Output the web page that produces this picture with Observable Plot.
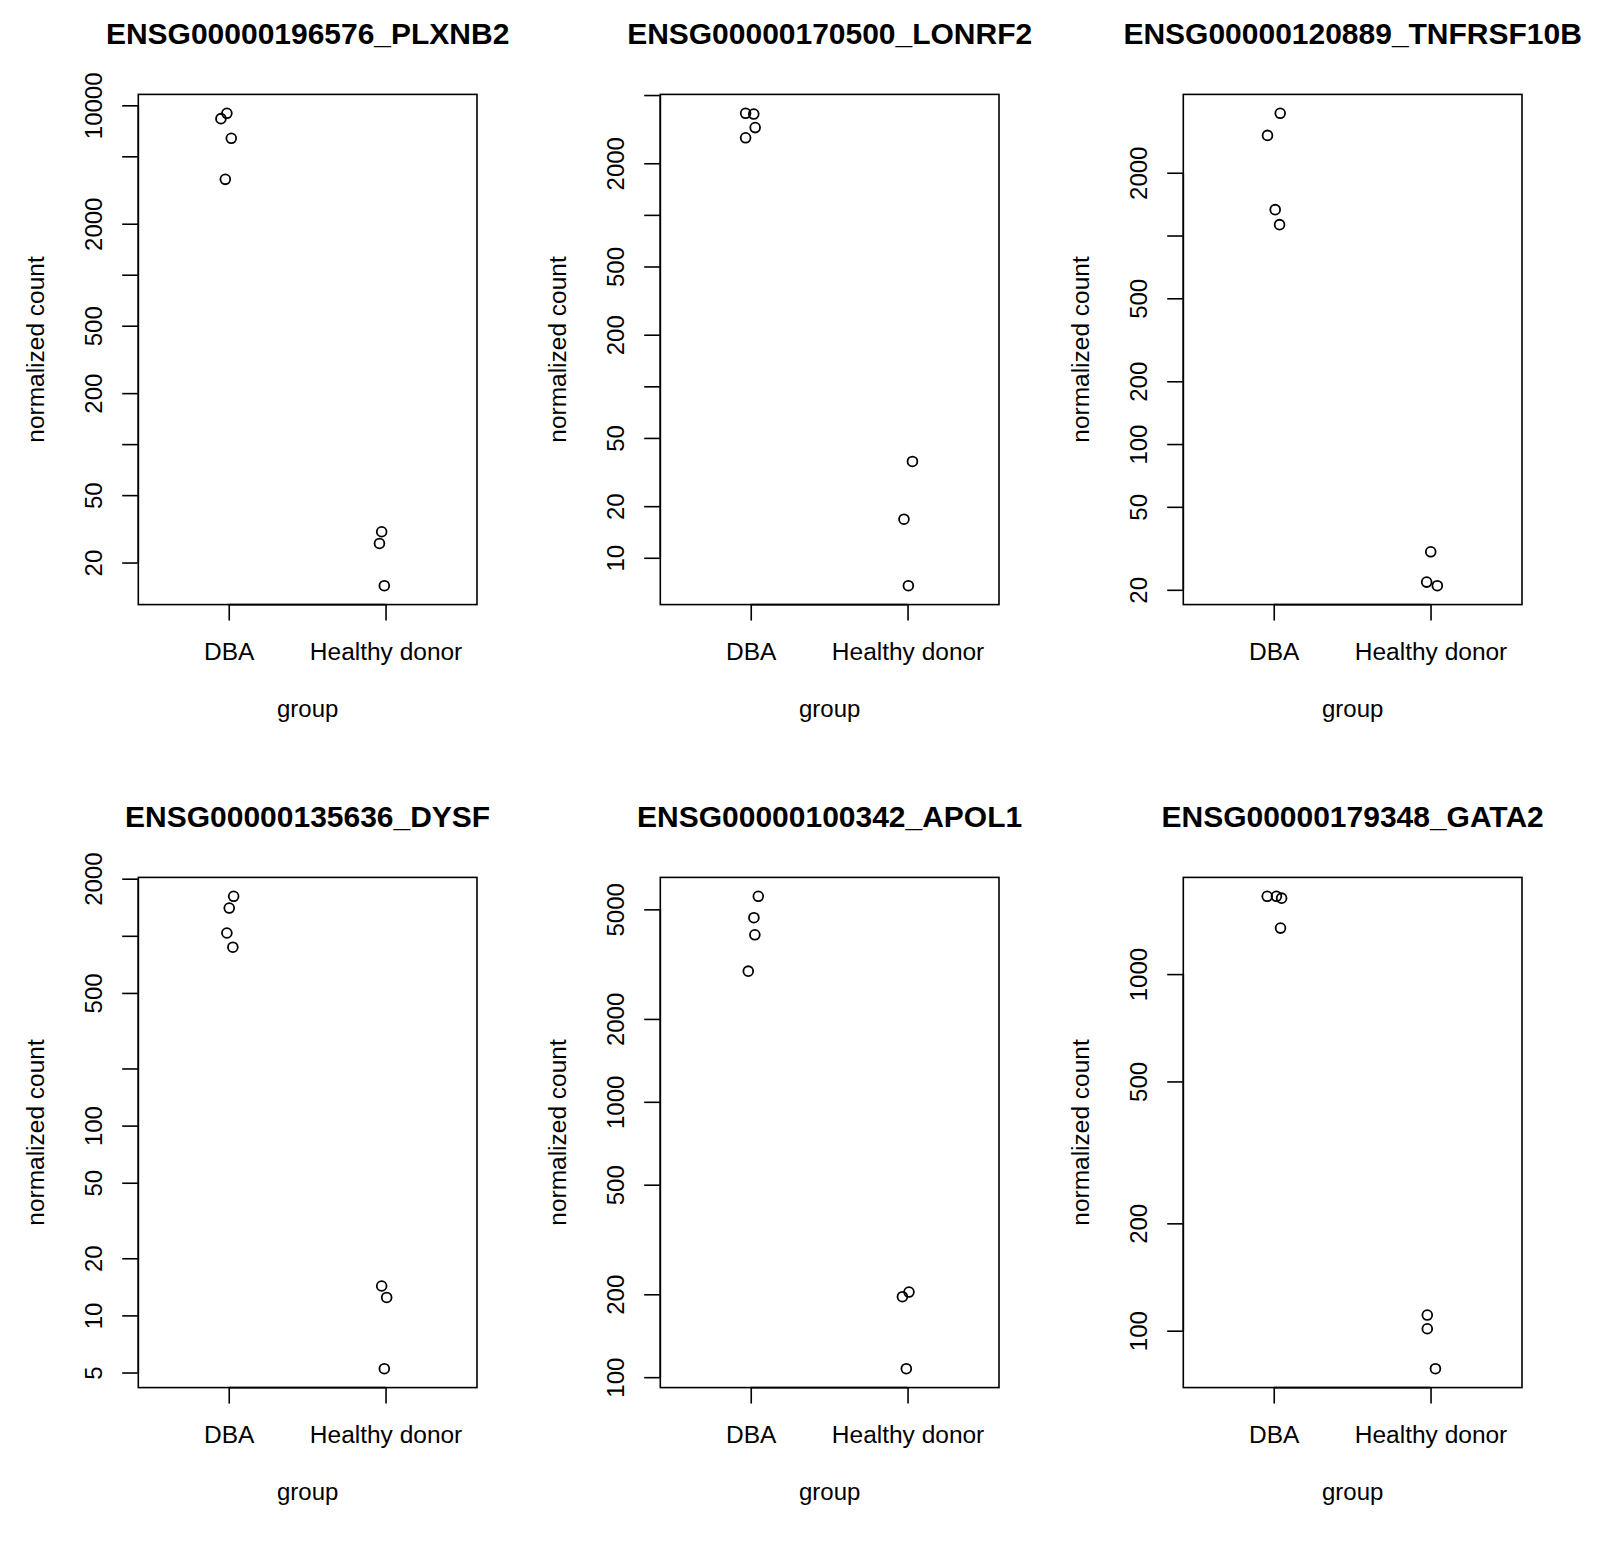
<!DOCTYPE html>
<html>
<head>
<meta charset="utf-8">
<script src="https://cdn.jsdelivr.net/npm/d3@7"></script>
<script src="https://cdn.jsdelivr.net/npm/@observablehq/plot@0.6"></script>
<style>
  body { margin: 0; background: #fff; }
  #wrap { position: relative; width: 1600px; height: 1545px; background: #fff; overflow: hidden; }
  .panel { position: absolute; }
</style>
</head>
<body>
<div id="wrap"></div>
<script>
// ---- data ----
const genes = [
  "ENSG00000196576_PLXNB2",
  "ENSG00000170500_LONRF2",
  "ENSG00000120889_TNFRSF10B",
  "ENSG00000135636_DYSF",
  "ENSG00000100342_APOL1",
  "ENSG00000179348_GATA2"
];
const groups = ["DBA", "Healthy donor"];

// normalized counts, DBA samples
const dbaCounts = [
  [9034, 8398, 6432, 3681],
  [3939, 3900, 3251, 2835],
  [3877, 3037, 1338, 1134],
  [1625, 1409, 1041, 876],
  [5600, 4683, 4058, 2994],
  [1658, 1658, 1638, 1350]
];
// horizontal jitter of DBA samples (as drawn)
const dbaJitter = [
  [-0.015, -0.053, 0.013, -0.025],
  [-0.036, 0.016, 0.025, -0.036],
  [0.038, -0.043, 0.006, 0.034],
  [0.028, 0.0, -0.015, 0.023],
  [0.045, 0.017, 0.023, -0.019],
  [-0.045, 0.014, 0.047, 0.04]
];
// normalized counts, healthy donor samples
const hdCounts = [
  [30.6, 26.1, 14.7],
  [36.7, 16.9, 6.92],
  [30.6, 21.9, 21.05],
  [14.37, 12.51, 5.27],
  [204.6, 196.8, 107.8],
  [111, 101.6, 78.5]
];
const hdJitter = [
  [-0.028, -0.042, -0.011],
  [0.028, -0.026, 0.002],
  [-0.002, -0.028, 0.04],
  [-0.028, 0.004, -0.011],
  [0.006, -0.036, -0.011],
  [-0.024, -0.024, 0.028]
];

// y axis ticks (all) and the ones that carry a label
const yTicks = [
  [20, 50, 100, 200, 500, 1000, 2000, 5000, 10000],
  [10, 20, 50, 100, 200, 500, 1000, 2000, 5000],
  [20, 50, 100, 200, 500, 1000, 2000],
  [5, 10, 20, 50, 100, 200, 500, 1000, 2000],
  [100, 200, 500, 1000, 2000, 5000],
  [100, 200, 500, 1000]
];
const yTickLabels = [
  [20, 50, 200, 500, 2000, 10000],
  [10, 20, 50, 200, 500, 2000],
  [20, 50, 100, 200, 500, 2000],
  [5, 10, 20, 50, 100, 500, 2000],
  [100, 200, 500, 1000, 2000, 5000],
  [100, 200, 500, 1000]
];
const xTicks = [1, 2];
const yLabel = "normalized count";
const xLabel = "group";

// ---- layout ----
const colLeft = [0, 522.4, 1044.8];
const colWidth = [522.4, 522.4, 555.2];
const rowTop = [0, 782.7];
const H = 762;
const ML = 137.8, BOXR = 476.5, MT = 93.9, BOXB = 604.1;
const FONT = "'Liberation Sans', Arial, Helvetica, sans-serif";

const wrap = document.getElementById("wrap");

genes.forEach((gene, i) => {
  const col = i % 3, row = Math.floor(i / 3);
  const W = colWidth[col];
  const data = [
    ...dbaCounts[i].map((c, j) => ({x: 1 + dbaJitter[i][j], y: c})),
    ...hdCounts[i].map((c, j) => ({x: 2 + hdJitter[i][j], y: c}))
  ];
  const logs = data.map(d => Math.log10(d.y));
  const lo = d3.min(logs), hi = d3.max(logs), pad = 0.04 * (hi - lo);
  const yDomain = [10 ** (lo - pad), 10 ** (hi + pad)];
  const xDomain = [0.5 - 0.04 * 2, 2.5 + 0.04 * 2];
  const ticks = yTicks[i];
  const labs = new Set(yTickLabels[i]);

  const plot = Plot.plot({
    width: W,
    height: H,
    marginLeft: ML,
    marginRight: W - BOXR,
    marginTop: MT,
    marginBottom: H - BOXB,
    style: {fontFamily: FONT, overflow: "visible", maxWidth: "none", background: "transparent", color: "#000"},
    x: {type: "linear", domain: xDomain, axis: null},
    y: {type: "log", domain: yDomain, axis: null},
    marks: [
      Plot.frame({stroke: "#000", strokeWidth: 1.6}),
      Plot.ruleX([xDomain[0]], {y1: ticks[0], y2: ticks[ticks.length - 1], stroke: "#000", strokeWidth: 1.6}),
      Plot.ruleY([yDomain[0]], {x1: xTicks[0], x2: xTicks[xTicks.length - 1], stroke: "#000", strokeWidth: 1.6}),
      Plot.axisY(ticks, {
        anchor: "left", tickSize: 15.6, tickPadding: 21, tickRotate: -90,
        tickFormat: d => labs.has(d) ? String(d) : "",
        fontSize: 24, label: null, stroke: "#000", strokeWidth: 1.6
      }),
      Plot.axisX(xTicks, {
        anchor: "bottom", tickSize: 16.5, tickPadding: 22,
        tickFormat: d => groups[d - 1],
        fontSize: 24.5, label: null, stroke: "#000", strokeWidth: 1.6
      }),
      Plot.dot(data, {x: "x", y: "y", r: 4.9, stroke: "#000", strokeWidth: 1.8, fill: "none"}),
      Plot.text([gene], {text: d => d, frameAnchor: "top", dy: -60.2, fontSize: 30, fontWeight: "bold", lineAnchor: "middle"}),
      Plot.text([xLabel], {text: d => d, frameAnchor: "bottom", dy: 104.5, fontSize: 24, lineAnchor: "middle"}),
      Plot.text([yLabel], {text: d => d, frameAnchor: "left", dx: -102, rotate: -90, fontSize: 24.5, textAnchor: "middle", lineAnchor: "middle"})
    ]
  });
  const div = document.createElement("div");
  div.className = "panel";
  div.style.left = colLeft[col] + "px";
  div.style.top = rowTop[row] + "px";
  div.appendChild(plot);
  wrap.appendChild(div);
});
</script>
</body>
</html>
